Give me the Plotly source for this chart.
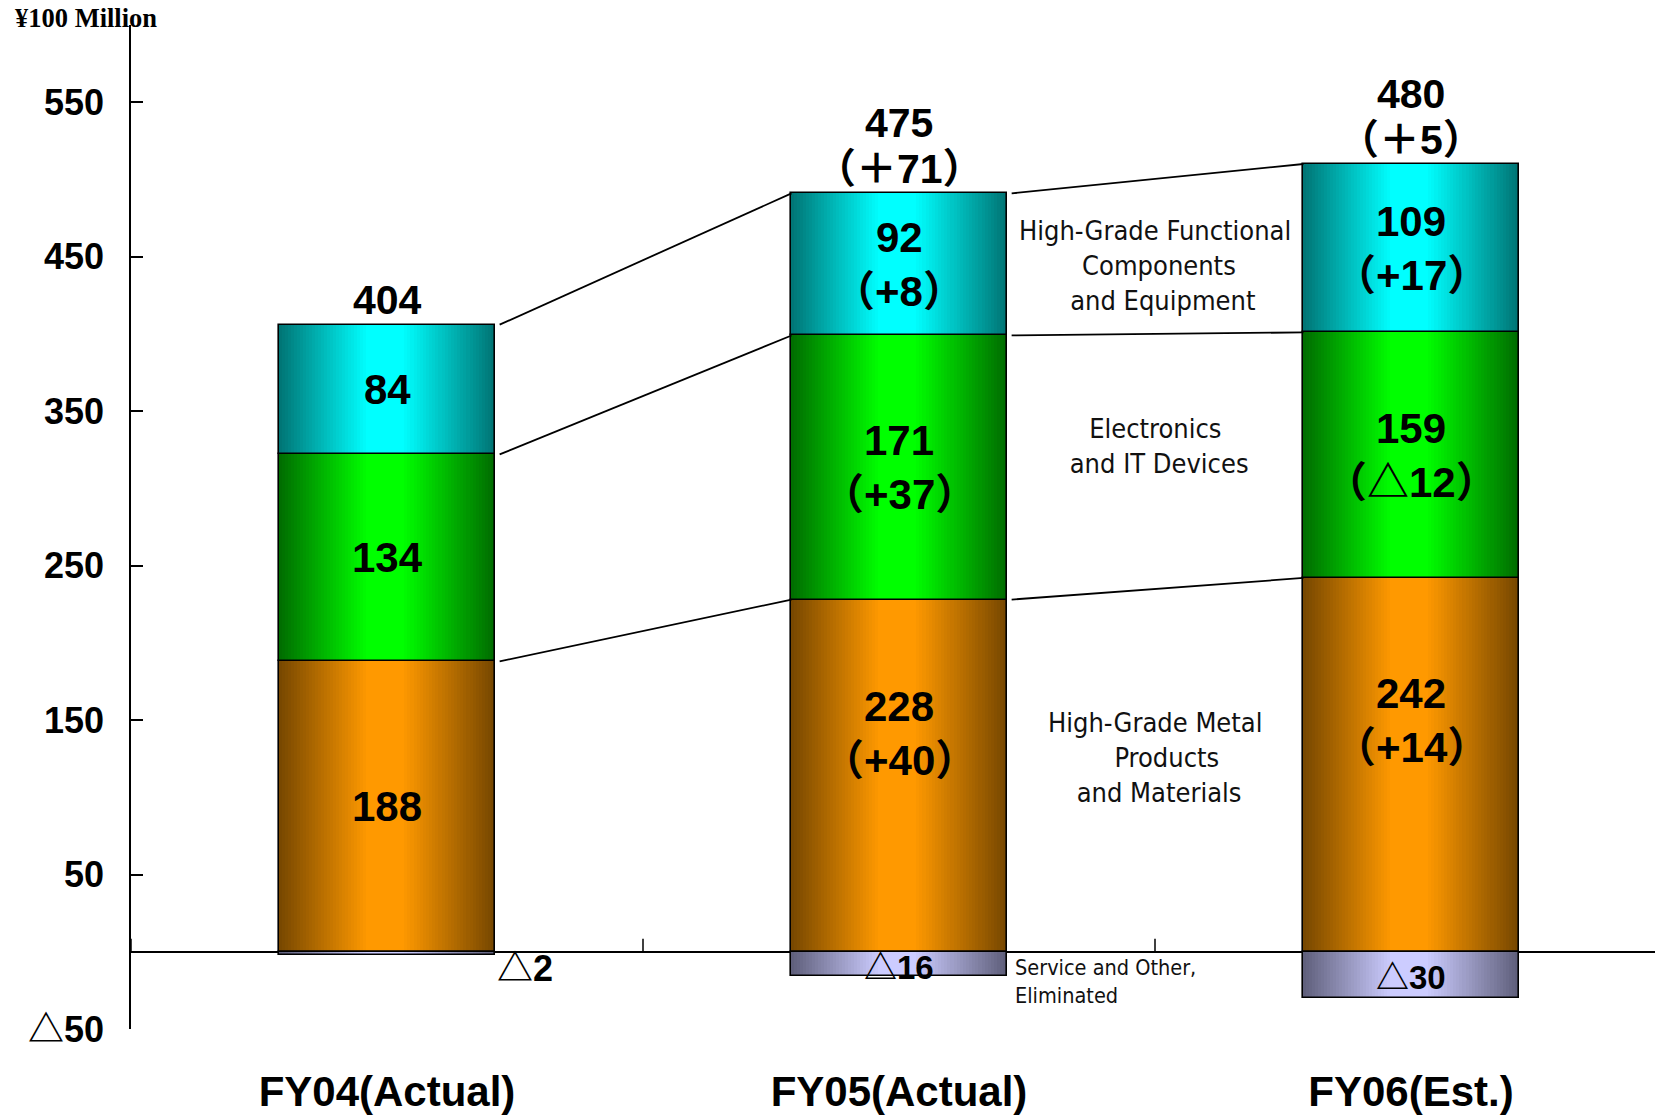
import plotly.graph_objects as go

# ---------------- data ----------------
categories = ["FY04(Actual)", "FY05(Actual)", "FY06(Est.)"]
metal = [188, 228, 242]
electronics = [134, 171, 159]
functional = [84, 92, 109]
service = [-2, -16, -30]
metal_chg = [None, 40, 14]
elec_chg = [None, 37, -12]
func_chg = [None, 8, 17]
total_chg = [None, 71, 5]
y_ticks = [-50, 50, 150, 250, 350, 450, 550]
seg_names = ["High-Grade Metal<br>   Products<br> and Materials",
             "Electronics<br> and IT Devices",
             "High-Grade Functional<br> Components<br>  and Equipment"]
service_name = "Service and Other,<br>Eliminated"
unit_label = "¥100 Million"

# ---------------- helpers ----------------
NUM_FONT = "Liberation Sans, Noto Sans CJK JP, sans-serif"
NARROW = "DejaVu Sans Condensed, Liberation Sans Narrow, sans-serif"
xpos = list(range(len(categories)))
BW = 0.42
HALF = BW / 2


def tri(n):
    return ("△" + str(abs(n))) if n < 0 else str(n)


def chg_txt(n, full=False):
    if n < 0:
        return "△" + str(abs(n))
    return ("＋" if full else "+") + str(n)


def mix(c1, c2, s):
    return "rgb(%d,%d,%d)" % tuple(round(a + (b - a) * s) for a, b in zip(c1, c2))


base_metal = [0] * 3
base_elec = metal[:]
base_func = [m + e for m, e in zip(metal, electronics)]
top_pos = [m + e + f for m, e, f in zip(metal, electronics, functional)]
totals = [m + e + f + s for m, e, f, s in zip(metal, electronics, functional, service)]

series = [
    (metal, base_metal, (120, 72, 0), (255, 153, 0)),
    (electronics, base_elec, (0, 110, 0), (0, 255, 0)),
    (functional, base_func, (0, 118, 118), (0, 255, 255)),
    (service, [0] * 3, (96, 96, 124), (204, 204, 255)),
]

fig = go.Figure()
N = 30
for vals, base, dark, bright in series:
    for k in range(N):
        t = k / (N - 1)
        uL = 0.40 * t
        uR = 1.0 - 0.42 * t
        fig.add_trace(go.Bar(
            x=xpos, y=vals, base=base,
            width=[(uR - uL) * BW] * 3, offset=[-HALF + uL * BW] * 3,
            marker=dict(color=mix(dark, bright, t), line=dict(width=0)),
            hoverinfo="skip", showlegend=False))
    fig.add_trace(go.Bar(
        x=xpos, y=vals, base=base, width=[BW] * 3, offset=[-HALF] * 3,
        marker=dict(color="rgba(0,0,0,0)", line=dict(color="black", width=1.6)),
        hoverinfo="skip", showlegend=False))

# connector lines between bars
for bounds in (metal, base_func, top_pos):
    for i in range(len(xpos) - 1):
        fig.add_trace(go.Scatter(
            x=[xpos[i] + HALF + 0.01, xpos[i + 1] - HALF], y=[bounds[i], bounds[i + 1]],
            mode="lines", line=dict(color="black", width=1.8),
            hoverinfo="skip", showlegend=False))

ann = []
num_font = dict(family=NUM_FONT, size=42, color="black", weight="bold")
LINE = 54  # px between the two lines of a bar label
# inside labels
for vals, base, chg, frac in ((metal, base_metal, metal_chg, 0.62),
                              (electronics, base_elec, elec_chg, 0.5),
                              (functional, base_func, func_chg, 0.5)):
    for i in xpos:
        if chg[i] is None:
            ann.append(dict(x=xpos[i], y=base[i] + vals[i] * 0.5, text=str(vals[i]),
                            showarrow=False, font=num_font, yanchor="middle"))
        else:
            yv = base[i] + vals[i] * frac
            ann.append(dict(x=xpos[i], y=yv, text=str(vals[i]), showarrow=False,
                            font=num_font, yanchor="middle", yshift=LINE / 2))
            ann.append(dict(x=xpos[i], y=yv, text="（" + chg_txt(chg[i]) + "）", showarrow=False,
                            font=num_font, yanchor="middle", yshift=-LINE / 2))

# totals above bars
tot_font = dict(family=NUM_FONT, size=41, color="black", weight="bold")
for i in xpos:
    if total_chg[i] is None:
        ann.append(dict(x=xpos[i], y=top_pos[i], text=str(totals[i]), showarrow=False,
                        font=tot_font, yanchor="middle", yshift=25))
    else:
        ann.append(dict(x=xpos[i], y=top_pos[i], text="（" + chg_txt(total_chg[i], True) + "）",
                        showarrow=False, font=tot_font, yanchor="middle", yshift=24))
        ann.append(dict(x=xpos[i], y=top_pos[i], text=str(totals[i]), showarrow=False,
                        font=tot_font, yanchor="middle", yshift=70))

# service labels
svc_font = dict(family=NUM_FONT, size=36, color="black", weight="bold")
for i in xpos:
    if abs(service[i]) < 10:
        ann.append(dict(x=xpos[i] + HALF, y=service[i], text=tri(service[i]), showarrow=False,
                        font=svc_font, xanchor="left", yanchor="middle", yshift=-14))
    else:
        ann.append(dict(x=xpos[i], y=service[i] / 2, text=tri(service[i]), showarrow=False,
                        font=dict(svc_font, size=33), xanchor="center", yanchor="middle",
                        yshift=-3))

# segment names between FY05 and FY06
xm = (xpos[1] + xpos[2]) / 2
name_font = dict(family=NARROW, size=27, color="#111111")
for (vals, base), nm, ys in zip(((metal, base_metal), (electronics, base_elec), (functional, base_func)),
                                seg_names, (13, 15, -9)):
    yc = sum(base[j] + vals[j] / 2 for j in (1, 2)) / 2
    ann.append(dict(x=xm, y=yc, text=nm, showarrow=False, font=name_font,
                    xanchor="center", yanchor="middle", align="center", yshift=ys))
ann.append(dict(x=xpos[1] + HALF + 0.012, y=0, text=service_name, showarrow=False,
                font=dict(family=NARROW, size=21.5, color="#111111"),
                xanchor="left", yanchor="top", align="left", yshift=-1))

ann.append(dict(xref="paper", yref="paper", x=-0.0775, y=1.007, text=unit_label, showarrow=False,
                font=dict(family="Liberation Serif", size=26.5, color="black", weight="bold"),
                xanchor="left", yanchor="middle"))

# boundary ticks on the zero line
shapes = []
for b in [xpos[0] - 0.5] + [p + 0.5 for p in xpos[:-1]]:
    shapes.append(dict(type="line", xref="x", yref="y", x0=b, x1=b, y0=0, y1=8.5,
                       line=dict(color="black", width=1.5)))

fig.update_layout(
    width=1655, height=1117,
    margin=dict(l=131, r=0, t=25, b=88),
    paper_bgcolor="white", plot_bgcolor="white",
    barmode="overlay", bargap=0,
    showlegend=False,
    annotations=ann, shapes=shapes,
    xaxis=dict(range=[-0.5, -0.5 + 1524 / 512], tickvals=xpos, ticktext=categories,
               showgrid=False, zeroline=False, showline=False, ticks="", automargin=False,
               tickfont=dict(family="Liberation Sans", size=42, color="black", weight="bold"),
               ticklabelstandoff=34),
    yaxis=dict(range=[-50, 600], tickvals=y_ticks, ticktext=[tri(v) for v in y_ticks],
               showgrid=False, zeroline=True, zerolinecolor="black", zerolinewidth=1.6,
               showline=True, linecolor="black", linewidth=1.6, automargin=False,
               ticks="inside", ticklen=12, tickwidth=1.5, tickcolor="black",
               tickfont=dict(family=NUM_FONT, size=36, color="black", weight="bold"),
               ticklabelstandoff=18),
)

fig.write_html("out.html")
